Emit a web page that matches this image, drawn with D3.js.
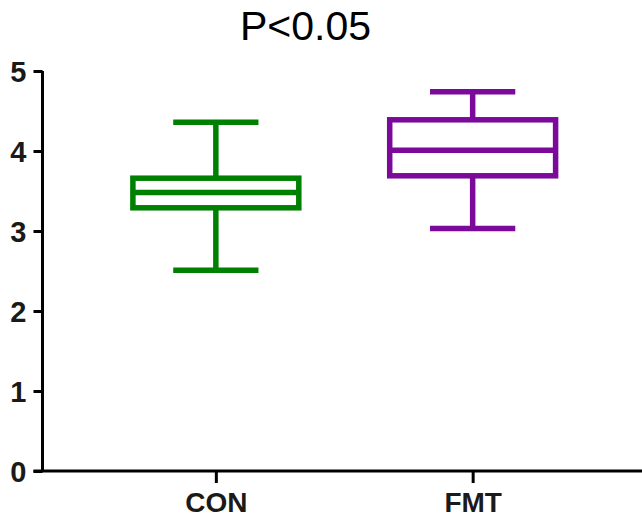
<!DOCTYPE html>
<html><head><meta charset="utf-8">
<script src="https://cdn.jsdelivr.net/npm/d3@7"></script>
<style>body{margin:0;background:#fff}svg{display:block}</style>
</head><body>
<svg id="c" width="642" height="519"></svg>
<script>
const categories = ["CON", "FMT"];
const mins    = [2.51, 3.03];
const q1s     = [3.29, 3.69];
const medians = [3.48, 4.01];
const q3s     = [3.66, 4.39];
const maxs    = [4.36, 4.74];
const colors  = ["#008000", "#7b0a9b"];
const yTicks  = [0, 1, 2, 3, 4, 5];
const title   = "P<0.05";

const svg = d3.select("#c");
const x0 = 42.5, yTop = 71, yBot = 471;
const y = d3.scaleLinear().domain([0, 5]).range([yBot, yTop]);
const x = d3.scalePoint().domain(categories).range([x0, 646]).padding(0.675);
const step = x.step();
const boxW = step * 0.646, capW = step * 0.332;
const font = "Liberation Sans, Arial, sans-serif";

// title
svg.append("text").attr("x", 305.5).attr("y", 40).attr("text-anchor", "middle")
  .attr("font-family", font).attr("font-size", 41).attr("fill", "#000").text(title);

// boxes
const data = categories.map((c, i) => ({c, min: mins[i], q1: q1s[i], med: medians[i], q3: q3s[i], max: maxs[i], col: colors[i]}));
const g = svg.append("g");
data.forEach(d => {
  const cx = x(d.c);
  const gg = g.append("g").attr("stroke", d.col).attr("stroke-width", 5.5).attr("fill", "none");
  gg.append("line").attr("x1", cx).attr("x2", cx).attr("y1", y(d.max)).attr("y2", y(d.q3));
  gg.append("line").attr("x1", cx).attr("x2", cx).attr("y1", y(d.q1)).attr("y2", y(d.min));
  gg.append("line").attr("x1", cx - capW/2).attr("x2", cx + capW/2).attr("y1", y(d.max)).attr("y2", y(d.max));
  gg.append("line").attr("x1", cx - capW/2).attr("x2", cx + capW/2).attr("y1", y(d.min)).attr("y2", y(d.min));
  gg.append("rect").attr("x", cx - boxW/2).attr("width", boxW)
    .attr("y", y(d.q3)).attr("height", y(d.q1) - y(d.q3)).attr("fill", "#fff");
  gg.append("line").attr("x1", cx - boxW/2).attr("x2", cx + boxW/2).attr("y1", y(d.med)).attr("y2", y(d.med));
});

// y axis
const ya = svg.append("g").attr("transform", `translate(${x0},0)`)
  .call(d3.axisLeft(y).tickValues(yTicks).tickFormat(d3.format("d")).tickSize(9).tickPadding(7));
ya.select(".domain").attr("d", `M0,${yTop}V${yBot}`).attr("stroke-width", 3);
ya.selectAll(".tick line").attr("stroke-width", 3);
ya.selectAll(".tick text").attr("font-family", font).attr("font-size", 29).attr("font-weight", "bold")
  .attr("fill", "#1a1a1a").attr("dy", "0.36em");

// x axis
const xa = svg.append("g").attr("transform", `translate(0,${yBot})`)
  .call(d3.axisBottom(x).tickSize(12).tickPadding(9));
xa.select(".domain").attr("d", `M${x0 - 9},0H642`).attr("stroke-width", 3);
xa.selectAll(".tick line").attr("stroke-width", 3);
xa.selectAll(".tick text").attr("font-family", font).attr("font-size", 28).attr("font-weight", "bold")
  .attr("fill", "#1a1a1a");
</script>
</body></html>
